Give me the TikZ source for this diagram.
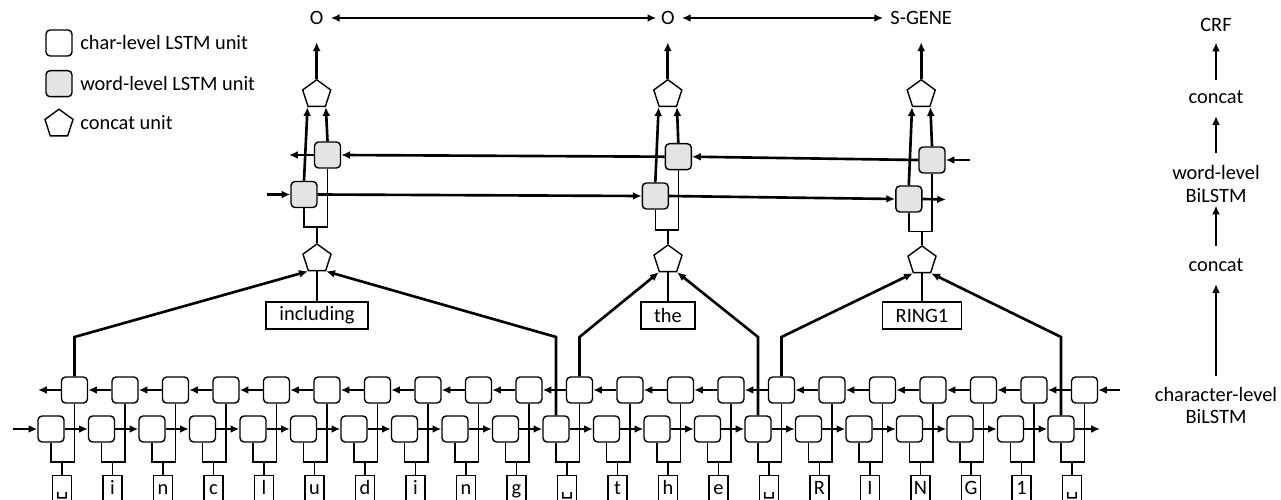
\documentclass[tikz,border=0pt]{standalone}
\usepackage{fontspec}
\setmainfont{Carlito}
\newfontfamily\dejavu{DejaVu Sans}
\usetikzlibrary{arrows.meta,shapes.geometric,calc}
\definecolor{wgray}{HTML}{E4E4E4}
\begin{document}
\begin{tikzpicture}[x=0.02cm,y=-0.02cm,
  font=\fontsize{11.6}{13}\selectfont,
  tl/.style={line width=0.8pt},
  arr/.style={line width=1.5pt,-{Latex[length=5pt,width=4.5pt]}},
  dbl/.style={line width=1.5pt,{Latex[length=5pt,width=4.5pt]}-{Latex[length=5pt,width=4.5pt]}},
  cbox/.style={draw,line width=0.8pt,rounded corners=2.3pt,minimum size=0.52cm,inner sep=0,fill=white},
  wbox/.style={cbox,fill=wgray},
  pent/.style={draw,line width=0.8pt,regular polygon,regular polygon sides=5,minimum size=0.59cm,inner sep=0,fill=white},
  inbox/.style={draw,line width=0.8pt,minimum width=0.38cm,inner sep=0,text height=0.38cm,text depth=0.36cm,anchor=north},
  wordbox/.style={draw,line width=0.8pt,inner xsep=7.6pt,inner ysep=0,minimum height=0.54cm},
  lbl/.style={inner sep=0,align=center}
]
\useasboundingbox (0,0) rectangle (1281,500);

% ---------- legend ----------
\node[cbox] (lg1) at (59,43) {};
\node[lbl,anchor=west] (lt1) at (80,43) {char-level LSTM unit};
\node[wbox] (lg2) at (59,83.7) {};
\node[lbl,anchor=west] (lt2) at (80,83.7) {word-level LSTM unit};
\node[pent] (lg3) at (59,124) {};
\node[lbl,anchor=west] (lt3) at (80,123) {concat unit};

% ---------- character level ----------
\coordinate (kink) at (0,337);
\foreach \ch [count=\i from 0] in {{\dejavu ␣},i,n,c,l,u,d,i,n,g,{\dejavu ␣},t,h,e,{\dejavu ␣},R,I,N,G,1,{\dejavu ␣}} {
  \pgfmathsetmacro\cx{62+50.5*\i}
  \node[inbox] (in\i) at (\cx,475) {\ch};
  \node[cbox] (f\i) at (\cx-11,429) {};
  \node[cbox] (b\i) at (\cx+12.5,390) {};
  \draw[tl] (in\i.north) -- (\cx,462);
  \draw[tl] (f\i.south) -- (\cx-11,462) -- (\cx+12.5,462) -- (b\i.south);
}
\foreach \i [evaluate=\i as \j using int(\i+1)] in {0,...,19} {
  \draw[arr] (f\i.east) -- (f\j.west);
  \draw[arr] (b\j.west) -- (b\i.east);
}
\coordinate (fin) at (13,429);
\coordinate (fout) at (1100,429);
\coordinate (bin) at (1120,390);
\coordinate (bout) at (38,390);
\draw[arr] (fin) -- (f0.west);
\draw[arr] (f20.east) -- (fout);
\draw[arr] (bin) -- (b20.east);
\draw[arr] (b0.west) -- (bout);

% ---------- words ----------
\node[wordbox] (w1) at (317,315.5) {including};
\node[wordbox] (w2) at (668,315.5) {the};
\node[wordbox] (w3) at (922,315.5) {RING1};

\node[pent] (lp1) at (317,258.7) {};
\node[pent] (lp2) at (668,259.7) {};
\node[pent] (lp3) at (922,260.7) {};

\draw[tl] (w1.north) -- (lp1.south);
\draw[tl] (w2.north) -- (lp2.south);
\draw[tl] (w3.north) -- (lp3.south);

\draw[arr] (b0.north) -- (b0.north |- kink) -- (lp1.corner 3);
\draw[arr] (f10.north) -- (f10.north |- kink) -- (lp1.corner 4);
\draw[arr] (b10.north) -- (b10.north |- kink) -- (lp2.corner 3);
\draw[arr] (f14.north) -- (f14.north |- kink) -- (lp2.corner 4);
\draw[arr] (b14.north) -- (b14.north |- kink) -- (lp3.corner 3);
\draw[arr] (f20.north) -- (f20.north |- kink) -- (lp3.corner 4);

% ---------- word level BiLSTM ----------
\node[wbox] (wf1) at (304,194.5) {};
\node[wbox] (wb1) at (327.5,155) {};
\node[wbox] (wf2) at (655.3,196) {};
\node[wbox] (wb2) at (678.3,156.7) {};
\node[wbox] (wf3) at (908.8,199) {};
\node[wbox] (wb3) at (932,160) {};

\draw[tl] (lp1.north) -- (317,227);
\draw[tl] (wf1.south) -- (304,227) -- (327.5,227) -- (wb1.south);
\draw[tl] (lp2.north) -- (668,230);
\draw[tl] (wf2.south) -- (655.3,230) -- (678.3,230) -- (wb2.south);
\draw[tl] (lp3.north) -- (922,231.7);
\draw[tl] (wf3.south) -- (908.8,231.7) -- (932,231.7) -- (wb3.south);

\coordinate (wfin) at (267,194.5);
\coordinate (wfout) at (946,199.5);
\coordinate (wbin) at (970,160);
\coordinate (wbout) at (289,155);
\draw[arr] (wfin) -- (wf1.west);
\draw[arr] (wf1.east) -- (wf2.west);
\draw[arr] (wf2.east) -- (wf3.west);
\draw[arr] (wf3.east) -- (wfout);
\draw[arr] (wbin) -- (wb3.east);
\draw[arr] (wb3.west) -- (wb2.east);
\draw[arr] (wb2.west) -- (wb1.east);
\draw[arr] (wb1.west) -- (wbout);

\node[pent] (up1) at (316.7,94.5) {};
\node[pent] (up2) at (667.8,94.5) {};
\node[pent] (up3) at (921.2,94.5) {};

\draw[arr] (wf1.north) -- (up1.corner 3);
\draw[arr] (wb1.north) -- (up1.corner 4);
\draw[arr] (wf2.north) -- (up2.corner 3);
\draw[arr] (wb2.north) -- (up2.corner 4);
\draw[arr] (wf3.north) -- (up3.corner 3);
\draw[arr] (wb3.north) -- (up3.corner 4);

% ---------- CRF labels ----------
\node[lbl] (o1) at (316.7,18) {O};
\node[lbl] (o2) at (667.8,18) {O};
\node[lbl] (o3) at (921.2,18) {S-GENE};
\draw[arr,shorten >=9.8pt] (up1.north) -- (o1.south);
\draw[arr,shorten >=9.8pt] (up2.north) -- (o2.south);
\draw[arr,shorten >=9.8pt] (up3.north) -- (o3.south);
\draw[dbl,shorten <=4pt,shorten >=2.5pt] (o1.east) -- (o2.west);
\draw[dbl,shorten <=4pt,shorten >=4pt] (o2.east) -- (o3.west);

% ---------- right column ----------
\node[lbl] (r1) at (1216,25) {CRF};
\node[lbl] (r2) at (1216,97) {concat};
\node[lbl] (r3) at (1216,184) {word-level\\BiLSTM};
\node[lbl] (r4) at (1216,265) {concat};
\node[lbl] (r5) at (1216,405.5) {character-level\\BiLSTM};
\draw[arr,shorten <=6pt,shorten >=6pt] (r2.north) -- (r1.south);
\draw[arr,shorten <=7pt,shorten >=7pt] (r3.north) -- (r2.south);
\draw[arr,shorten <=7pt,shorten >=1.5pt] (r4.north) -- (r3.south);
\draw[arr,shorten <=6pt,shorten >=7pt] (r5.north) -- (r4.south);
\end{tikzpicture}
\end{document}
